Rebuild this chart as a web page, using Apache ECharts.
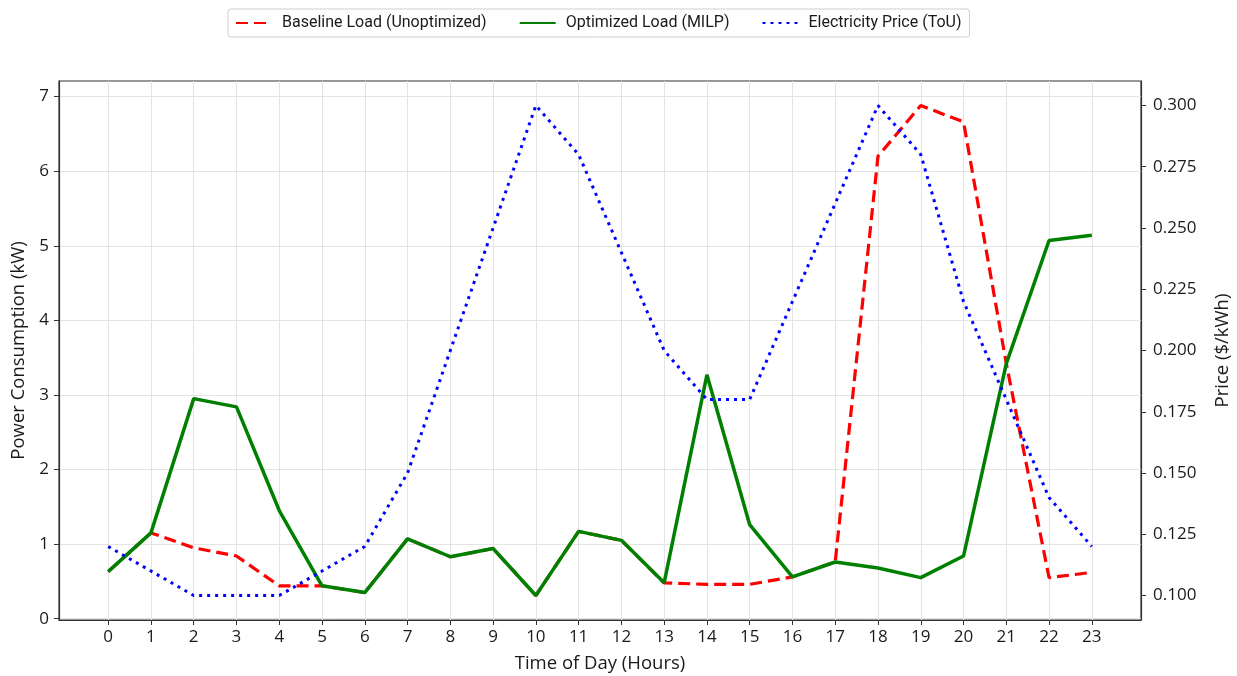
<!DOCTYPE html>
<html>
<head>
<meta charset="utf-8">
<script src="https://cdn.jsdelivr.net/npm/echarts@6/dist/echarts.min.js"></script>
<style>
  html, body { margin: 0; padding: 0; background: #fff; }
  #chart { width: 1237px; height: 676px; }
</style>
</head>
<body>
<div id="chart"></div>
<script>
// hours of the day
const hours = Array.from({ length: 24 }, (_, i) => i)

// baseline load (kW)
const baselineLoad = [0.63, 1.15, 0.95, 0.84, 0.44, 0.44, 0.35, 1.07, 0.83, 0.94, 0.31, 1.17,
  1.05, 0.48, 0.46, 0.46, 0.56, 0.76, 6.20, 6.88, 6.66, 3.42, 0.55, 0.62]

// optimized load (kW)
const optimizedLoad = [0.63, 1.15, 2.95, 2.84, 1.45, 0.44, 0.35, 1.07, 0.83, 0.94, 0.31, 1.17,
  1.05, 0.48, 3.27, 1.26, 0.56, 0.76, 0.68, 0.55, 0.84, 3.42, 5.07, 5.14]

// time-of-use price ($/kWh)
const price = [0.12, 0.11, 0.10, 0.10, 0.10, 0.11, 0.12, 0.15, 0.20, 0.25, 0.30, 0.28,
  0.24, 0.20, 0.18, 0.18, 0.22, 0.26, 0.30, 0.28, 0.22, 0.18, 0.14, 0.12]

const loadTicks = [0, 1, 2, 3, 4, 5, 6, 7]
const priceTicks = [0.1, 0.125, 0.15, 0.175, 0.2, 0.225, 0.25, 0.275, 0.3]

const FONT = 'Open Sans'
const TXT = '#1a1a1a'

const chart = echarts.init(document.getElementById('chart'))

const pairs = arr => hours.map((h, i) => [h, arr[i]])

const option = {
  backgroundColor: '#fff',
  animation: false,
  textStyle: { fontFamily: FONT, color: TXT },
  legend: {
    left: 228,
    top: 9,
    padding: [6, 8, 6, 7],
    itemWidth: 36,
    itemHeight: 16,
    itemGap: 32,
    borderColor: '#cfcfcf',
    borderWidth: 1,
    borderRadius: 3,
    itemStyle: { opacity: 0 },
    textStyle: { fontFamily: 'Roboto', fontSize: 16, color: TXT, padding: [0, 0, 0, 5] },
    data: ['Baseline Load (Unoptimized)', 'Optimized Load (MILP)', 'Electricity Price (ToU)']
  },
  grid: {
    left: 59,
    right: 96,
    top: 81,
    bottom: 56,
    outerBoundsMode: 'none',
    show: true,
    borderColor: '#333',
    borderWidth: 1.2,
    backgroundColor: 'transparent'
  },
  xAxis: {
    type: 'value',
    min: -1.15,
    max: 24.15,
    name: 'Time of Day (Hours)',
    nameLocation: 'middle',
    nameGap: 34,
    nameTextStyle: { fontSize: 18.5, color: TXT },
    axisLine: { show: true, onZero: false, lineStyle: { color: '#333', width: 1.2 } },
    axisTick: { show: true, length: 5, customValues: hours, lineStyle: { color: '#333' } },
    axisLabel: { customValues: hours, fontSize: 17, margin: 9, color: TXT },
    splitLine: { show: true, lineStyle: { color: '#e4e4e4', width: 1 } }
  },
  yAxis: [
    {
      type: 'value',
      min: -0.018,
      max: 7.209,
      name: 'Power Consumption (kW)',
      nameLocation: 'middle',
      nameGap: 30,
      nameTextStyle: { fontSize: 18.5, color: TXT },
      axisLine: { show: true, onZero: false, lineStyle: { color: '#333', width: 1.2 } },
      axisTick: { show: true, length: 5, customValues: loadTicks, lineStyle: { color: '#333' } },
      axisLabel: { customValues: loadTicks, fontSize: 17, margin: 10, color: TXT },
      splitLine: { show: true, lineStyle: { color: '#e4e4e4', width: 1 } }
    },
    {
      type: 'value',
      min: 0.09,
      max: 0.31,
      position: 'right',
      name: 'Price ($/kWh)',
      nameLocation: 'middle',
      nameGap: 72,
      nameRotate: 90,
      nameTextStyle: { fontSize: 18.5, color: TXT },
      axisLine: { show: true, onZero: false, lineStyle: { color: '#333', width: 1.2 } },
      axisTick: { show: true, length: 5, customValues: priceTicks, lineStyle: { color: '#333' } },
      axisLabel: {
        customValues: priceTicks,
        fontSize: 17,
        margin: 12,
        color: TXT,
        formatter: v => v.toFixed(3)
      },
      splitLine: { show: false }
    }
  ],
  series: [
    {
      name: 'Baseline Load (Unoptimized)',
      type: 'line',
      yAxisIndex: 0,
      data: pairs(baselineLoad),
      showSymbol: false,
      symbol: 'none',
      color: '#ff0000',
      lineStyle: { color: '#ff0000', width: 3.2, type: [12, 6], cap: 'butt' },
      z: 2
    },
    {
      name: 'Optimized Load (MILP)',
      type: 'line',
      yAxisIndex: 0,
      data: pairs(optimizedLoad),
      showSymbol: false,
      symbol: 'none',
      color: '#008000',
      lineStyle: { color: '#008000', width: 3.5 },
      z: 3
    },
    {
      name: 'Electricity Price (ToU)',
      type: 'line',
      yAxisIndex: 1,
      data: pairs(price),
      showSymbol: false,
      symbol: 'none',
      color: '#0000ff',
      lineStyle: { color: '#0000ff', width: 3, type: [3, 5], cap: 'butt' },
      z: 4
    }
  ]
}

chart.setOption(option)
window.addEventListener('resize', () => chart.resize())
</script>
</body>
</html>
